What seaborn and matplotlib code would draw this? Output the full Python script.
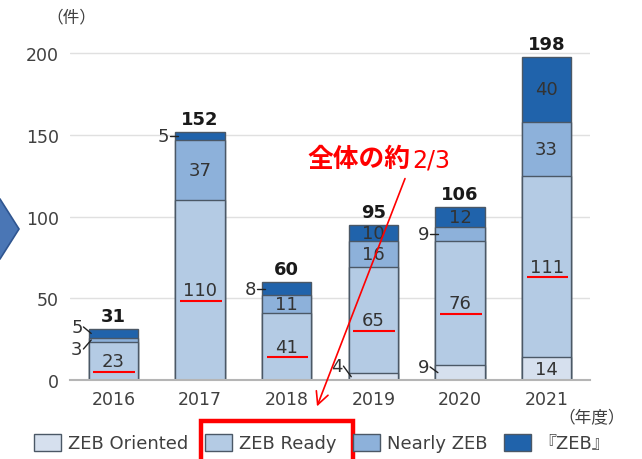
"""
ZEB building count by fiscal year (stacked bars)
"""

# Libraries
import pandas as pd
import seaborn as sns
import matplotlib.pyplot as plt
from matplotlib.patches import Patch, Polygon, Rectangle, FancyArrowPatch

# Seaborn
sns.set_theme(style="white")
plt.rcParams['font.family'] = ['DejaVu Sans', 'Noto Sans CJK JP']

# ---------------------------------
# Data
# ---------------------------------
years = ['2016', '2017', '2018', '2019', '2020', '2021']
oriented = [0, 0, 0, 4, 9, 14]
ready = [23, 110, 41, 65, 76, 111]
nearly = [3, 37, 11, 16, 9, 33]
zeb = [5, 5, 8, 10, 12, 40]
series_names = ['ZEB Oriented', 'ZEB Ready', 'Nearly ZEB', '『ZEB』']

# ---------------------------------
# Style
# ---------------------------------
colors = ['#d6e0ee', '#b4cbe4', '#8db1da', '#2063ab']
edge = '#4b5866'
text_c = '#333333'
red = '#ff0000'
W, H = 642, 460


def px(x, y):
    """Pixel position -> figure fraction."""
    return x / W, 1 - y / H


# Nudges for labels placed outside the bars (year index, layer): y in data
outside_y = {(0, 2): 19, (0, 3): 32.5, (3, 0): 8.5, (4, 0): 8}

# ---------------------------------
# Main
# ---------------------------------
layers = [oriented, ready, nearly, zeb]
df = pd.DataFrame({'year': years})
cum = [0] * len(years)
bottoms = []
for k, vals in enumerate(layers):
    bottoms.append(list(cum))
    cum = [c + v for c, v in zip(cum, vals)]
    df['c%d' % k] = cum
totals = cum

fig = plt.figure(figsize=(W / 100, H / 100), dpi=100)
ax = fig.add_axes([70 / W, 79 / H, 520 / W, 351 / H])

# Draw cumulative bars from top layer to bottom
for k in reversed(range(len(layers))):
    sns.barplot(data=df, x='year', y='c%d' % k, color=colors[k],
                edgecolor=edge, linewidth=1, width=0.57, saturation=1,
                errorbar=None, ax=ax)

ax.set_xlim(-0.5, 5.5)
ax.set_ylim(0, 215)
ax.set_yticks([0, 50, 100, 150, 200])
ax.set(xlabel='', ylabel='')
ax.yaxis.grid(True, color='#e0e0e0', linewidth=1)
ax.set_axisbelow(True)
sns.despine(ax=ax, left=True)
ax.spines['bottom'].set_color('#b5b5b5')
ax.spines['bottom'].set_linewidth(1.5)
ax.tick_params(axis='both', length=0, labelsize=12.5, colors='#404040')
ax.tick_params(axis='y', pad=8)
ax.tick_params(axis='x', pad=7)

# Segment labels
half = 0.285
for i in range(len(years)):
    for k, vals in enumerate(layers):
        v = vals[i]
        if v == 0:
            continue
        yc = bottoms[k][i] + v / 2
        if v >= 10:
            ax.text(i, yc, str(v), ha='center', va='center',
                    fontsize=13, color=text_c)
            if k == 1:
                ax.hlines(yc - 6.7, i - 0.23, i + 0.25, color=red, lw=1.5)
        else:
            yl = outside_y.get((i, k), yc)
            ax.text(i - half - 0.07, yl, str(v), ha='right', va='center',
                    fontsize=13, color=text_c)
            ax.plot([i - half - 0.06, i - half + 0.03], [yl, yc],
                    color='#222222', lw=1, clip_on=False)
    ax.text(i, totals[i] + 8, str(totals[i]), ha='center', va='center',
            fontsize=13, fontweight='bold', color='#1a1a1a')

# Legend
handles = [Patch(facecolor=c, edgecolor=edge, linewidth=1) for c in colors]
fig.legend(handles, series_names, loc='center', ncol=4,
           bbox_to_anchor=px(322, 444), frameon=False, fontsize=13,
           handlelength=1.5, handleheight=1.1, handletextpad=0.4,
           columnspacing=0.9, labelcolor='#404040')

# Units
fig.text(*px(71, 17), '（件）', ha='center', va='center',
         fontsize=12, color='#404040')
fig.text(*px(592, 418), '（年度）', ha='center', va='center',
         fontsize=12, color='#404040')

# Annotations
fig.text(*px(307, 160), '全体の約', ha='left', va='center',
         fontsize=18.5, fontweight='bold', color=red)
fig.text(*px(412, 160), '2/3', ha='left', va='center',
         fontsize=17, color=red)
fig.add_artist(FancyArrowPatch(px(406, 177), px(316, 410),
                               transform=fig.transFigure,
                               arrowstyle='->,head_length=9,head_width=4.5',
                               color=red, lw=1.2))
fig.add_artist(Rectangle(px(201, 475), 152 / W, 53 / H,
                         transform=fig.transFigure, fill=False,
                         edgecolor=red, lw=3.2, clip_on=False))
fig.add_artist(Polygon([px(-20, 200), px(0, 200), px(19, 230),
                        px(0, 260), px(-20, 260)],
                       closed=True, transform=fig.transFigure,
                       facecolor='#4a76b5', edgecolor='#2f5590', lw=1.2))

fig.savefig('out.png', dpi=100)
